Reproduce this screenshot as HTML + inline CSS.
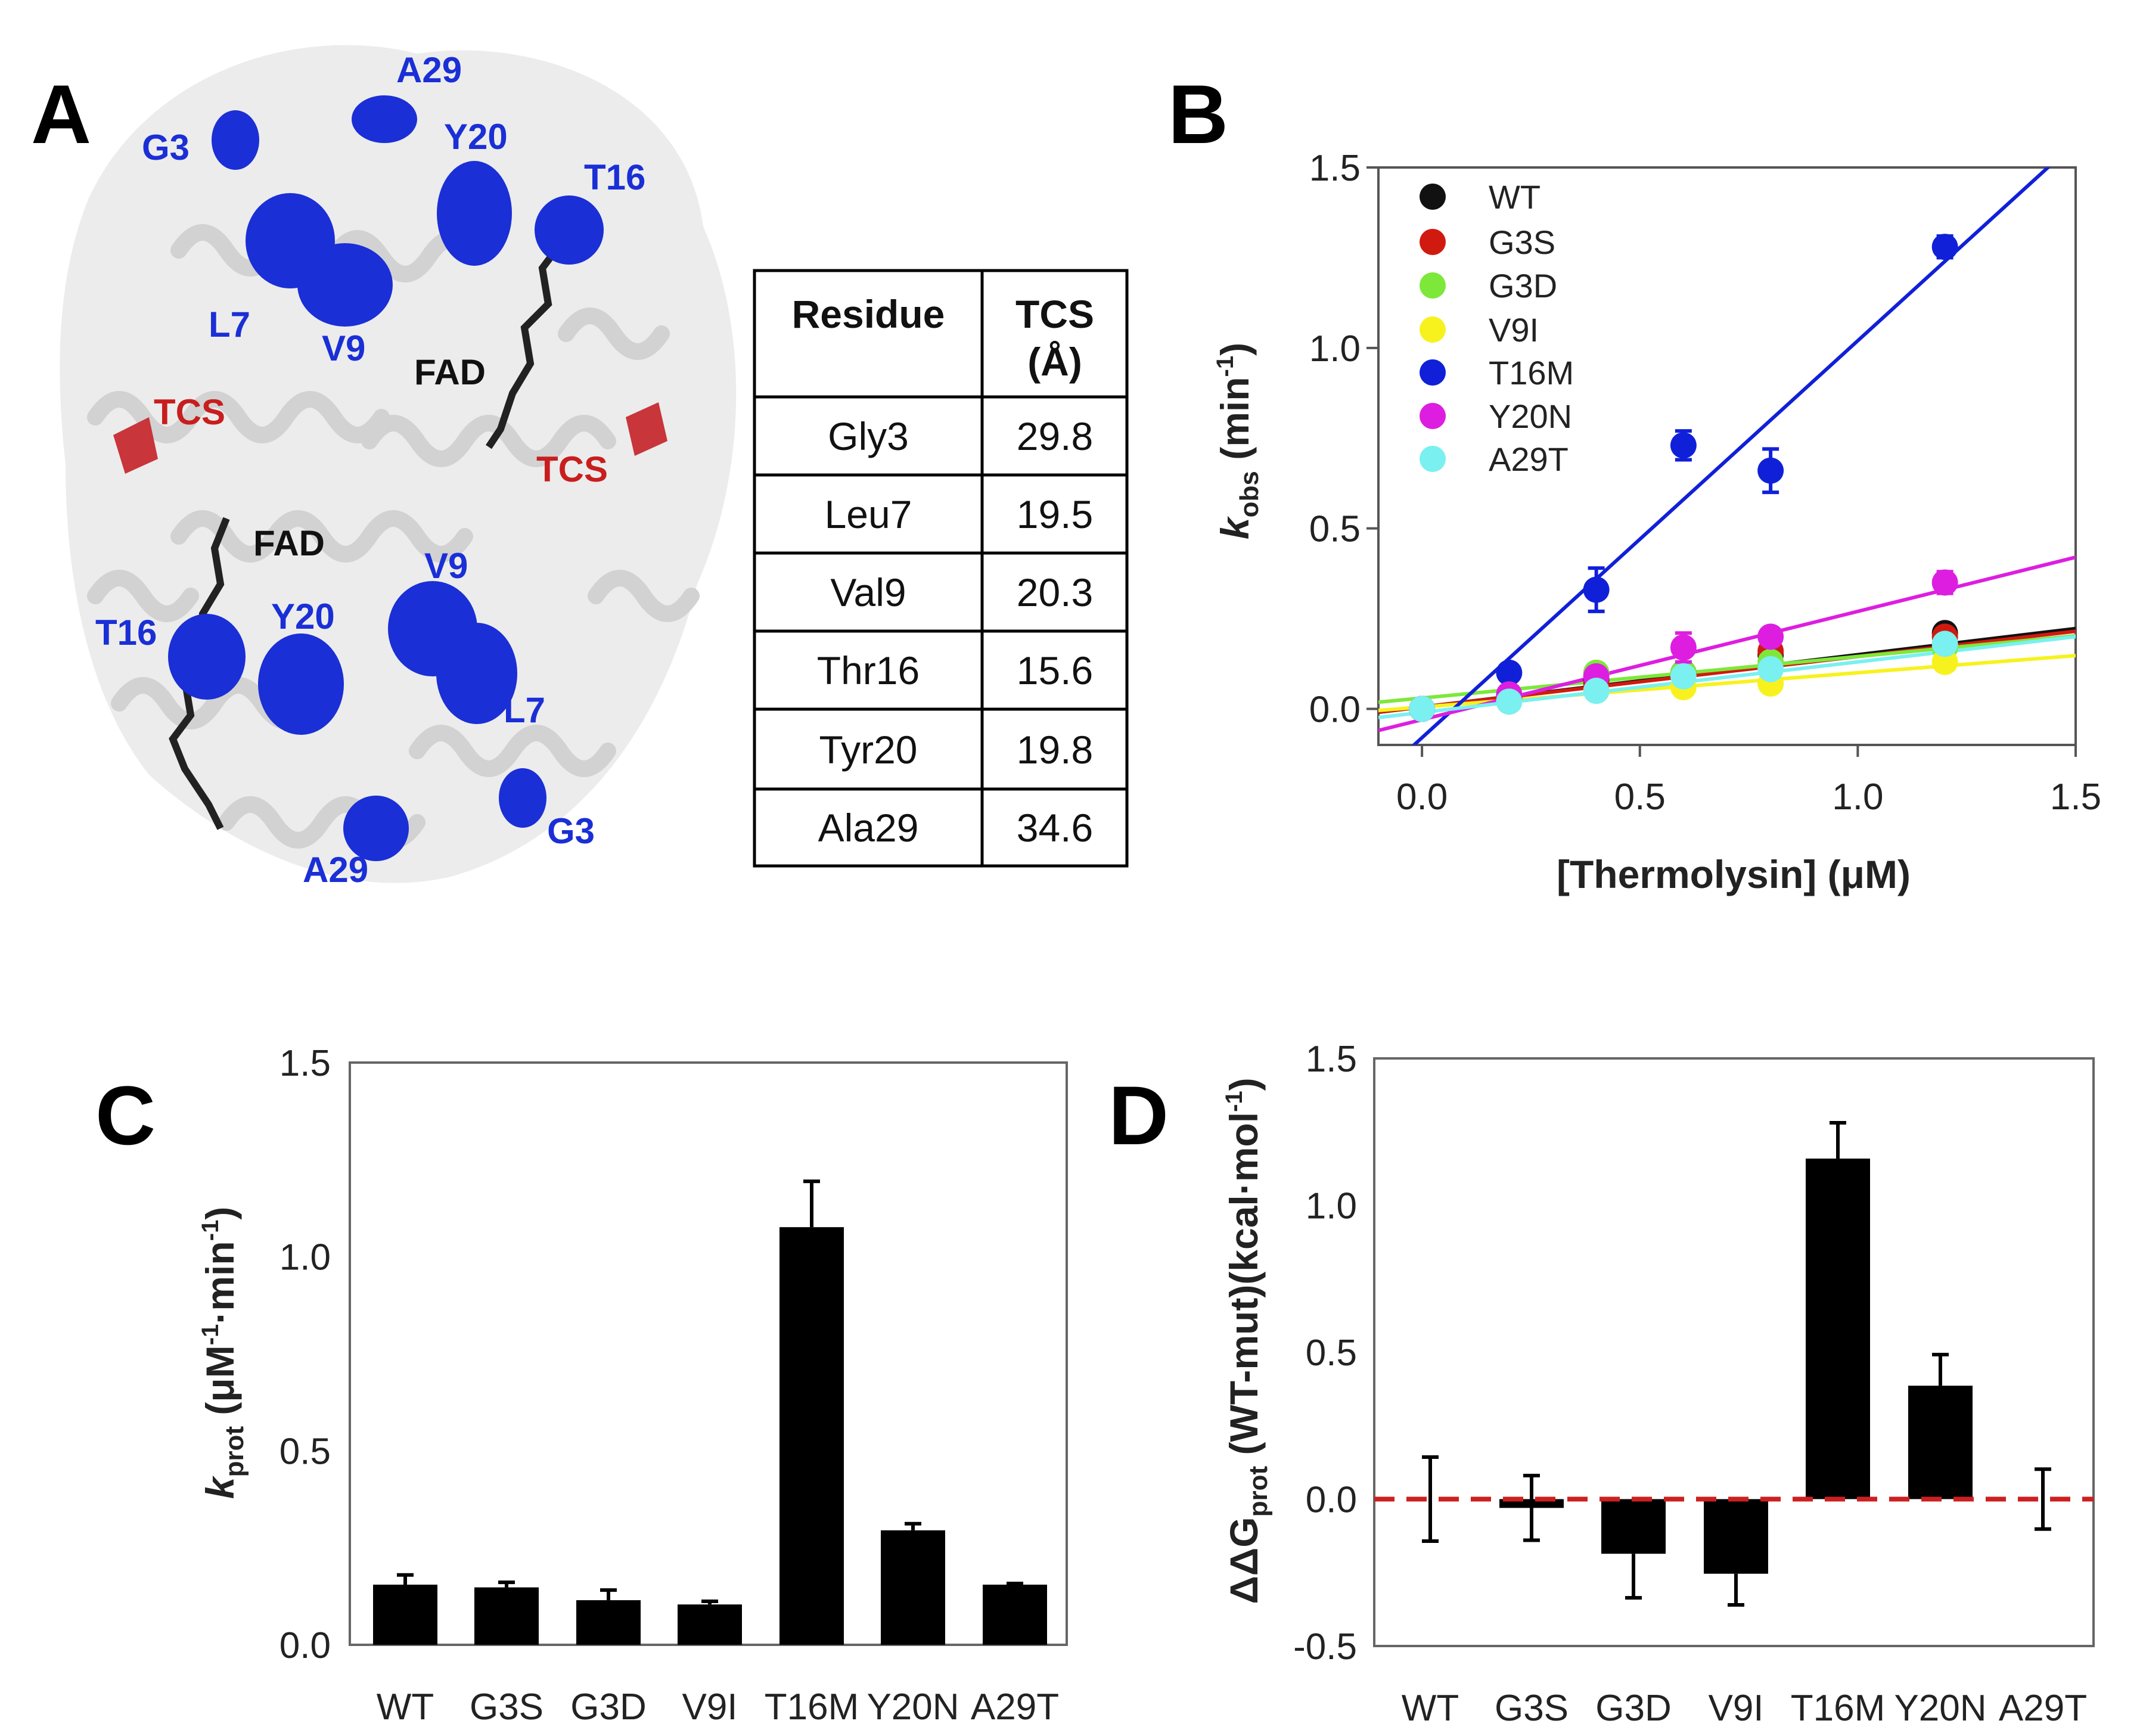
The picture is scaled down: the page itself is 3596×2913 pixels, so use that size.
<!DOCTYPE html>
<html><head><meta charset="utf-8"><style>
html,body{margin:0;padding:0;background:#fff;}
svg{display:block;font-family:"Liberation Sans",sans-serif;}
</style></head><body>
<svg id="fig" width="3596" height="2913" viewBox="0 0 3596 2913" xmlns="http://www.w3.org/2000/svg">
<!-- Panel A: protein structure approximation -->
<g>
  <path d="M150 330 C 250 120, 500 40, 700 90 C 900 60, 1150 150, 1180 380 C 1260 560, 1250 800, 1170 980 C 1120 1180, 1000 1400, 760 1470 C 560 1520, 360 1400, 250 1300 C 140 1160, 110 950, 110 780 C 90 600, 100 450, 150 330 Z" fill="#ececec"/>
  <g fill="none" stroke="#d2d2d2" stroke-width="28" stroke-linecap="round">
    <path d="M160 700 q40 -60 80 0 q40 60 80 0 q40 -60 80 0 q40 60 80 0 q40 -60 80 0 q40 60 80 0"/>
    <path d="M620 740 q40 -60 80 0 q40 60 80 0 q40 -60 80 0 q40 60 80 0 q40 -60 80 0"/>
    <path d="M300 900 q40 -60 80 0 q40 60 80 0 q40 -60 80 0 q40 60 80 0 q40 -60 80 0 q40 60 80 0"/>
    <path d="M200 1180 q40 -60 80 0 q40 60 80 0 q40 -60 80 0 q40 60 80 0"/>
    <path d="M700 1260 q40 -60 80 0 q40 60 80 0 q40 -60 80 0 q40 60 80 0"/>
    <path d="M560 430 q40 -60 80 0 q40 60 80 0 q40 -60 80 0"/>
    <path d="M300 420 q40 -60 80 0 q40 60 80 0"/>
    <path d="M950 560 q40 -60 80 0 q40 60 80 0"/>
    <path d="M380 1380 q40 -60 80 0 q40 60 80 0 q40 -60 80 0 q40 60 80 0"/>
    <path d="M1000 1000 q40 -60 80 0 q40 60 80 0"/>
    <path d="M160 1000 q40 -60 80 0 q40 60 80 0"/>
  </g>
  <g fill="#c8353a">
    <path d="M190 730 l60 -30 l15 70 l-55 25 z"/>
    <path d="M1050 700 l55 -25 l15 65 l-55 25 z"/>
  </g>
  <g stroke="#222" stroke-width="12" fill="none">
    <path d="M920 370 l20 40 l-30 40 l10 60 l-40 40 l10 60 l-30 50 l-20 60 l-20 30"/>
    <path d="M380 870 l-20 50 l10 60 l-30 50 l10 60 l-40 50 l10 60 l-30 40 l20 50 l40 60 l20 40"/>
  </g>
  <g fill="#1a2fd6">
    <ellipse cx="395" cy="235" rx="40" ry="50"/>
    <ellipse cx="645" cy="200" rx="55" ry="40"/>
    <ellipse cx="796" cy="358" rx="63" ry="88"/>
    <ellipse cx="955" cy="386" rx="58" ry="58"/>
    <ellipse cx="487" cy="404" rx="75" ry="80"/>
    <ellipse cx="579" cy="478" rx="80" ry="70"/>
    <ellipse cx="347" cy="1102" rx="65" ry="72"/>
    <ellipse cx="505" cy="1148" rx="72" ry="85"/>
    <ellipse cx="726" cy="1055" rx="75" ry="80"/>
    <ellipse cx="800" cy="1130" rx="68" ry="85"/>
    <ellipse cx="877" cy="1339" rx="40" ry="50"/>
    <ellipse cx="631" cy="1390" rx="55" ry="55"/>
  </g>
  <g font-weight="bold" font-size="60" fill="#1a2fd6">
    <text x="665" y="138">A29</text>
    <text x="238" y="268">G3</text>
    <text x="745" y="250">Y20</text>
    <text x="980" y="318">T16</text>
    <text x="350" y="565">L7</text>
    <text x="540" y="605">V9</text>
    <text x="712" y="970">V9</text>
    <text x="160" y="1082">T16</text>
    <text x="455" y="1055">Y20</text>
    <text x="845" y="1212">L7</text>
    <text x="918" y="1415">G3</text>
    <text x="508" y="1480">A29</text>
  </g>
  <g font-weight="bold" font-size="60" fill="#111">
    <text x="695" y="645">FAD</text>
    <text x="425" y="932">FAD</text>
  </g>
  <g font-weight="bold" font-size="60" fill="#c81e1e">
    <text x="258" y="712">TCS</text>
    <text x="900" y="808">TCS</text>
  </g>
</g>
<g font-weight="bold" font-size="140" fill="#000">
  <text x="52" y="240">A</text>
  <text x="1960" y="240">B</text>
  <text x="160" y="1920">C</text>
  <text x="1860" y="1920">D</text>
</g>
<!-- Table -->
<g stroke="#000" stroke-width="5" fill="none">
  <rect x="1266" y="454" width="625" height="999"/>
  <line x1="1648" y1="454" x2="1648" y2="1453"/>
  <line x1="1266" y1="666" x2="1891" y2="666"/>
  <line x1="1266" y1="797" x2="1891" y2="797"/>
  <line x1="1266" y1="928" x2="1891" y2="928"/>
  <line x1="1266" y1="1059" x2="1891" y2="1059"/>
  <line x1="1266" y1="1190" x2="1891" y2="1190"/>
  <line x1="1266" y1="1324" x2="1891" y2="1324"/>
</g>
<g font-size="66" text-anchor="middle" fill="#111">
  <text x="1457" y="550" font-weight="bold">Residue</text>
  <text x="1770" y="550" font-weight="bold">TCS</text>
  <text x="1770" y="630" font-weight="bold">(Å)</text>
  <text x="1457" y="755">Gly3</text><text x="1770" y="755">29.8</text>
  <text x="1457" y="886">Leu7</text><text x="1770" y="886">19.5</text>
  <text x="1457" y="1017">Val9</text><text x="1770" y="1017">20.3</text>
  <text x="1457" y="1148">Thr16</text><text x="1770" y="1148">15.6</text>
  <text x="1457" y="1281">Tyr20</text><text x="1770" y="1281">19.8</text>
  <text x="1457" y="1412">Ala29</text><text x="1770" y="1412">34.6</text>
</g>
<g id="chartB"></g>
<g id="chartC"></g>
<g id="chartD"></g>
</svg>
<script>
// ---- Panel B data ----
const bConc = [0, 0.2, 0.4, 0.6, 0.8, 1.2];
const bSeriesNames = ["WT","G3S","G3D","V9I","T16M","Y20N","A29T"];
const bColors = ["#111111","#d11a0f","#7de83a","#f7f21e","#1020d8","#dd1ee0","#7af0f0"];
const bWT   = [0, 0.03, 0.08, 0.10, 0.15, 0.21];
const bG3S  = [0, 0.03, 0.07, 0.10, 0.16, 0.20];
const bG3D  = [0, 0.04, 0.10, 0.10, 0.13, 0.17];
const bV9I  = [0, 0.02, 0.05, 0.06, 0.07, 0.13];
const bT16M = [0, 0.10, 0.33, 0.73, 0.66, 1.28];
const bY20N = [0, 0.04, 0.09, 0.17, 0.20, 0.35];
const bA29T = [0, 0.02, 0.05, 0.09, 0.11, 0.18];
const bT16MErr = [0, 0.01, 0.06, 0.04, 0.06, 0.03];
const bY20NErr = [0, 0.01, 0.02, 0.04, 0.02, 0.03];
const bSlopes = [0.145, 0.14, 0.115, 0.095, 1.10, 0.30, 0.14];
const bIntercepts = [0.005, 0.005, 0.03, 0.005, -0.08, -0.03, -0.01];
const bXTicks = ["0.0","0.5","1.0","1.5"];
const bYTicks = ["0.0","0.5","1.0","1.5"];
// ---- Panel C data ----
const cCats = ["WT","G3S","G3D","V9I","T16M","Y20N","A29T"];
const cVals = [0.155, 0.148, 0.115, 0.104, 1.076, 0.295, 0.155];
const cErrs = [0.025, 0.013, 0.026, 0.008, 0.118, 0.017, 0.003];
const cYTicks = ["0.0","0.5","1.0","1.5"];
// ---- Panel D data ----
const dCats = ["WT","G3S","G3D","V9I","T16M","Y20N","A29T"];
const dVals = [0, -0.03, -0.186, -0.254, 1.159, 0.386, 0];
const dErrs = [0.143, 0.11, 0.15, 0.106, 0.122, 0.106, 0.102];
const dYTicks = ["-0.5","0.0","0.5","1.0","1.5"];

const NS = "http://www.w3.org/2000/svg";
function mk(parent, tag, attrs, text){
  const e = document.createElementNS(NS, tag);
  for (const k in attrs) e.setAttribute(k, attrs[k]);
  if (text !== undefined) e.textContent = text;
  parent.appendChild(e);
  return e;
}

// ===== Panel B =====
(function(){
  const g = document.getElementById('chartB');
  const L=2313, R=3483, T=281, Bm=1250, xmin=-0.1, xmax=1.5, ymin=-0.1, ymax=1.5;
  const X = v => L + (v-xmin)/(xmax-xmin)*(R-L);
  const Y = v => Bm - (v-ymin)/(ymax-ymin)*(Bm-T);
  const clip = mk(g,'clipPath',{id:'clipB'});
  mk(clip,'rect',{x:L,y:T,width:R-L,height:Bm-T});
  const frame = mk(g,'rect',{x:L,y:T,width:R-L,height:Bm-T,fill:'none',stroke:'#555','stroke-width':4});
  
  
  bXTicks.forEach(t=>{
    const v=parseFloat(t);
    const tk = mk(g,'line',{x1:X(v),x2:X(v),y1:Bm,y2:Bm+20,stroke:'#555','stroke-width':4});
    
    
    const tl = mk(g,'text',{x:X(v),y:1358,'font-size':62,'text-anchor':'middle',fill:'#222'},t);
    
    
  });
  bYTicks.forEach(t=>{
    const v=parseFloat(t);
    const tk = mk(g,'line',{x1:L,x2:L-20,y1:Y(v),y2:Y(v),stroke:'#555','stroke-width':4});
    
    
    const tl = mk(g,'text',{x:L-30,y:Y(v)+22,'font-size':62,'text-anchor':'end',fill:'#222'},t);
    
    
  });
  const series = [bWT,bG3S,bG3D,bV9I,bT16M,bY20N,bA29T];
  const lines = mk(g,'g',{'clip-path':'url(#clipB)'});
  bSeriesNames.forEach((n,i)=>{
    const ln = mk(lines,'line',{x1:X(xmin),y1:Y(bIntercepts[i]+bSlopes[i]*xmin),x2:X(xmax),y2:Y(bIntercepts[i]+bSlopes[i]*xmax),stroke:bColors[i],'stroke-width':6});
    
    
  });
  series.forEach((arr,i)=>{
    arr.forEach((v,j)=>{
      let err = 0;
      if (i===4) err=bT16MErr[j];
      if (i===5) err=bY20NErr[j];
      if (err>0.005){
        const eb = mk(g,'path',{d:`M${X(bConc[j])} ${Y(v-err)}V${Y(v+err)}M${X(bConc[j])-14} ${Y(v-err)}h28M${X(bConc[j])-14} ${Y(v+err)}h28`,stroke:bColors[i],'stroke-width':6,fill:'none'});
        
        
      }
      const c = mk(g,'circle',{cx:X(bConc[j]),cy:Y(v),r:22,fill:bColors[i]});
      
      
    });
  });
  const legY=[330,406,479,553,625,698,770];
  bSeriesNames.forEach((n,i)=>{
    const m = mk(g,'circle',{cx:2404,cy:legY[i],r:22,fill:bColors[i]});
    
    
    const t = mk(g,'text',{x:2498,y:legY[i]+20,'font-size':56,fill:'#222'},n);
    
    
  });
  const xt = mk(g,'text',{x:2909,y:1490,'font-size':66,'font-weight':'bold','text-anchor':'middle',fill:'#222'},'[Thermolysin] (μM)');
  
  
  const yt = mk(g,'text',{transform:'translate(2095,740) rotate(-90)','font-size':66,'font-weight':'bold','text-anchor':'middle',fill:'#222'});
  
  
  mk(yt,'tspan',{'font-style':'italic'},'k');
  mk(yt,'tspan',{'font-size':44,dy:16},'obs');
  mk(yt,'tspan',{dy:-16},' (min');
  mk(yt,'tspan',{'font-size':40,dy:-26},'-1');
  mk(yt,'tspan',{dy:26},')');
})();

// ===== Bar chart helper =====
function barChart(gid, L, R, T, Bm, ymin, ymax, cats, vals, errs, ticks, tickX, centers, isD){
  const g = document.getElementById(gid);
  const Y = v => Bm - (v-ymin)/(ymax-ymin)*(Bm-T);
  const frame = mk(g,'rect',{x:L,y:T,width:R-L,height:Bm-T,fill:'none',stroke:'#666','stroke-width':4});
  
  
  ticks.forEach(t=>{
    const v=parseFloat(t);
    const tl = mk(g,'text',{x:tickX,y:Y(v)+22,'font-size':62,'text-anchor':'end',fill:'#222'},t);
    
    
  });
  const bw=108;
  cats.forEach((c,i)=>{
    const cx=centers[i], v=vals[i], e=errs[i];
    const top = v>=0 ? Y(v) : Y(0);
    const h = Math.abs(Y(v)-Y(0));
    if (h>0.5){
      const b = mk(g,'rect',{x:cx-bw/2,y:top,width:bw,height:h,fill:'#000'});
      
      
    }
    let d;
    if (isD && Math.abs(v)<0.05){
      d=`M${cx} ${Y(v-e)}V${Y(v+e)}M${cx-14} ${Y(v-e)}h28M${cx-14} ${Y(v+e)}h28`;
    } else if (v>=0){
      d=`M${cx} ${Y(v)}V${Y(v+e)}M${cx-14} ${Y(v+e)}h28`;
    } else {
      d=`M${cx} ${Y(v)}V${Y(v-e)}M${cx-14} ${Y(v-e)}h28`;
    }
    const eb = mk(g,'path',{d:d,stroke:'#000','stroke-width':6,fill:'none'});
    
    
    const tl = mk(g,'text',{x:cx,y:Bm+125,'font-size':62,'text-anchor':'middle',fill:'#222'},c);
    
    
  });
  return {g,Y};
}

// ===== Panel C =====
(function(){
  const r = barChart('chartC',587,1790,1783,2760,0,1.5,cCats,cVals,cErrs,cYTicks,555,[680,850,1021,1191,1362,1532,1703],false);
  const yt = mk(r.g,'text',{transform:'translate(392,2270) rotate(-90)','font-size':66,'font-weight':'bold','text-anchor':'middle',fill:'#222'});
  
  
  mk(yt,'tspan',{'font-style':'italic'},'k');
  mk(yt,'tspan',{'font-size':44,dy:16},'prot');
  mk(yt,'tspan',{dy:-16},' (μM');
  mk(yt,'tspan',{'font-size':40,dy:-26},'-1');
  mk(yt,'tspan',{dy:26},'·min');
  mk(yt,'tspan',{'font-size':40,dy:-26},'-1');
  mk(yt,'tspan',{dy:26},')');
})();

// ===== Panel D =====
(function(){
  const r = barChart('chartD',2306,3513,1776,2762,-0.5,1.5,dCats,dVals,dErrs,dYTicks,2277,[2400,2570,2741,2913,3084,3256,3428],true);
  const zl = mk(r.g,'line',{x1:2306,x2:3513,y1:r.Y(0),y2:r.Y(0),stroke:'#cc2020','stroke-width':8,'stroke-dasharray':'34 20'});
  
  
  const yt = mk(r.g,'text',{transform:'translate(2110,2250) rotate(-90)','font-size':66,'font-weight':'bold','text-anchor':'middle',fill:'#222'});
  
  
  mk(yt,'tspan',{},'ΔΔG');
  mk(yt,'tspan',{'font-size':44,dy:16},'prot');
  mk(yt,'tspan',{dy:-16},' (WT-mut)(kcal·mol');
  mk(yt,'tspan',{'font-size':40,dy:-26},'-1');
  mk(yt,'tspan',{dy:26},')');
})();
</script>
</body></html>
